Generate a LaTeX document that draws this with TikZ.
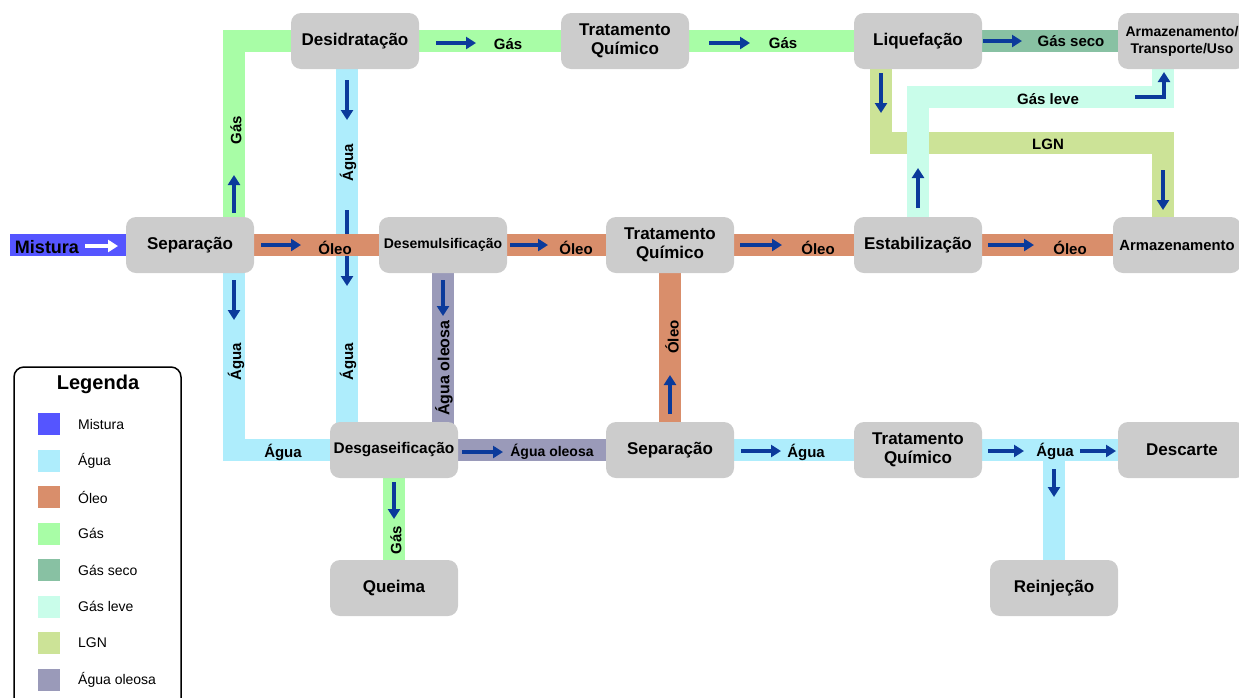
\documentclass[tikz,border=0pt]{standalone}
\usepackage{fontspec}
\setmainfont{Liberation Sans}
\usetikzlibrary{arrows.meta, backgrounds}
\definecolor{mistura}{HTML}{5555FF}
\definecolor{agua}{HTML}{AEEDFC}
\definecolor{oleo}{HTML}{D98E6B}
\definecolor{gas}{HTML}{A8FDA6}
\definecolor{gasseco}{HTML}{88C1A3}
\definecolor{gasleve}{HTML}{C9FDEA}
\definecolor{lgn}{HTML}{CCE397}
\definecolor{aguaoleosa}{HTML}{9A9AB9}
\definecolor{caixa}{HTML}{CCCCCC}
\definecolor{seta}{HTML}{0B3A9B}
\tikzset{
    etapa/.style={rectangle, rounded corners=10pt, fill=caixa, minimum width=128pt, minimum height=56pt, inner sep=0pt, align=center, font=\bfseries\fontsize{17}{19}\selectfont},
    duto/.style={line width=22pt, line join=miter},
    fluxo/.style={draw=seta, line width=3.3pt, line join=miter, -{Triangle[length=10pt,width=12pt]}},
    rotulo/.style={inner sep=0pt, font=\bfseries\fontsize{15}{17}\selectfont},
}

\begin{document}
\begin{tikzpicture}[x=1pt, y=-1pt]
    \useasboundingbox (0,0) rectangle (1239,697);
    \clip (0,0) rectangle (1239,697);

    % etapas
    \node[etapa] (sep1) at (190,245) {Separação};
    \node[etapa] (desid) at (355,41) {Desidratação};
    \node[etapa] (tq1) at (625,41) {Tratamento\\Químico};
    \node[etapa] (liq) at (918,41) {Liquefação};
    \node[etapa, font=\bfseries\fontsize{14}{17}\selectfont] (arm1) at (1182,41) {Armazenamento/\\Transporte/Uso};
    \node[etapa, font=\bfseries\fontsize{14}{17}\selectfont] (desem) at (443,245) {Desemulsificação};
    \node[etapa] (tq2) at (670,245) {Tratamento\\Químico};
    \node[etapa] (estab) at (918,245) {Estabilização};
    \node[etapa, font=\bfseries\fontsize{14.8}{18}\selectfont] (arm2) at (1177,245) {Armazenamento};
    \node[etapa, font=\bfseries\fontsize{15.4}{18}\selectfont] (desg) at (394,450) {Desgaseificação};
    \node[etapa] (sep2) at (670,450) {Separação};
    \node[etapa] (tq3) at (918,450) {Tratamento\\Químico};
    \node[etapa] (desc) at (1182,450) {Descarte};
    \node[etapa] (queima) at (394,588) {Queima};
    \node[etapa] (reinj) at (1054,588) {Reinjeção};

    \coordinate (entrada) at (10,245);
    \coordinate (lgn1) at (881,143);
    \coordinate (lgn2) at (1163,143);
    \coordinate (leve1) at (918,97);
    \coordinate (leve2) at (1163,97);

    % dutos
    \begin{scope}[on background layer]
        \draw[duto, mistura] (entrada) -- (sep1.center);
        \draw[duto, agua] ([xshift=44pt]sep1.center) |- (desg.center);
        \draw[duto, agua] ([xshift=-8pt]desid.center) -- ([xshift=-47pt]desg.center);
        \draw[fluxo] (347,210) -- (347,286);
        \draw[duto, agua] (sep2.center) -- (tq3.center) -- (desc.center);
        \draw[duto, agua] (tq3.center -| reinj) -- (reinj.center);
        \draw[duto, oleo] (sep1.center) -- (desem.center) -- (tq2.center) -- (estab.center) -- (arm2.center);
        \draw[duto, oleo] (sep2.center) -- (tq2.center);
        \draw[duto, gas] ([xshift=44pt]sep1.center) |- (desid.center);
        \draw[duto, gas] (desid.center) -- (tq1.center) -- (liq.center);
        \draw[duto, gas] (desg.center) -- (queima.center);
        \draw[duto, gasseco] (liq.center) -- (arm1.center);
        \draw[duto, lgn] (liq.center -| lgn1) -- (lgn1) -- (lgn2) -- (lgn2 |- arm2.center);
        \draw[duto, gasleve] (estab.center) -- (leve1) -- (leve2) -- (leve2 |- arm1.center);
        \draw[duto, aguaoleosa] (desem.center) -- (desem |- desg.center);
        \draw[duto, aguaoleosa] (desg.center) -- (sep2.center);
    \end{scope}

    % setas e rotulos
    \draw[fluxo, draw=white] (85,246) -- (118,246);
    \node[rotulo, font=\bfseries\fontsize{18}{20}\selectfont] (tmist) at (47,247) {Mistura};

    \draw[fluxo] (261,245) -- (301,245);
    \node[rotulo] (toleo1) at (335,248) {Óleo};
    \draw[fluxo] (510,245) -- (548,245);
    \node[rotulo] (toleo2) at (576,248) {Óleo};
    \draw[fluxo] (740,245) -- (782,245);
    \node[rotulo] (toleo3) at (818,248) {Óleo};
    \draw[fluxo] (988,245) -- (1034,245);
    \node[rotulo] (toleo4) at (1070,248) {Óleo};

    \draw[fluxo] (234,213) -- (234,175);
    \node[rotulo, rotate=90] (tgas1) at (236,130) {Gás};
    \draw[fluxo] (436,43) -- (476,43);
    \node[rotulo] (tgas2) at (508,44) {Gás};
    \draw[fluxo] (709,43) -- (750,43);
    \node[rotulo] (tgas3) at (783,43) {Gás};
    \draw[fluxo] (983,41) -- (1022,41);
    \node[rotulo] (tseco) at (1071,41) {Gás seco};

    \draw[fluxo] (347,80) -- (347,120);
    \node[rotulo, rotate=90] (tagua1) at (348,163) {Água};
    \node[rotulo, rotate=90] (tagua2) at (348,362) {Água};
    \draw[fluxo] (234,280) -- (234,320);
    \node[rotulo, rotate=90] (tagua3) at (236,362) {Água};
    \node[rotulo] (tagua4) at (283,452) {Água};

    \draw[fluxo] (443,280) -- (443,316);
    \node[rotulo, rotate=90, font=\bfseries\fontsize{16}{18}\selectfont] (toleosa1) at (444,368) {Água oleosa};
    \draw[fluxo] (462,452) -- (503,452);
    \node[rotulo, font=\bfseries\fontsize{14}{16}\selectfont] (toleosa2) at (552,452) {Água oleosa};

    \draw[fluxo] (670,414) -- (670,375);
    \node[rotulo, rotate=90] (toleo5) at (672,337) {Óleo};

    \draw[fluxo] (741,451) -- (781,451);
    \node[rotulo] (tagua5) at (806,452) {Água};
    \draw[fluxo] (988,451) -- (1024,451);
    \node[rotulo] (tagua6) at (1055,451) {Água};
    \draw[fluxo] (1080,451) -- (1116,451);
    \draw[fluxo] (1054,469) -- (1054,497);

    \draw[fluxo] (394,482) -- (394,519);
    \node[rotulo, rotate=90] (tgas4) at (396,540) {Gás};

    \draw[fluxo] (881,73) -- (881,113);
    \draw[fluxo] (1163,170) -- (1163,210);
    \node[rotulo] (tlgn) at (1048,144) {LGN};

    \draw[fluxo] (918,208) -- (918,168);
    \draw[fluxo] (1135,97) -| (1164,72);
    \node[rotulo] (tleve) at (1048,99) {Gás leve};

    % legenda
    \draw[line width=1.5pt, rounded corners=10pt] (14,367) rectangle (181,712);
    \node[font=\bfseries\fontsize{20}{22}\selectfont] (legenda) at (98,384) {Legenda};
    \foreach \cor/\nome [count=\i from 0] in {mistura/Mistura, agua/Água, oleo/Óleo, gas/Gás, gasseco/Gás seco, gasleve/Gás leve, lgn/LGN, aguaoleosa/Água oleosa} {
        \fill[\cor] (38,{413+36.5*\i}) rectangle ++(22,22);
        \node[anchor=west, inner sep=0pt, font=\fontsize{14}{16}\selectfont] (item\i) at (78,{424+36.5*\i}) {\nome};
    }
\end{tikzpicture}
\end{document}
